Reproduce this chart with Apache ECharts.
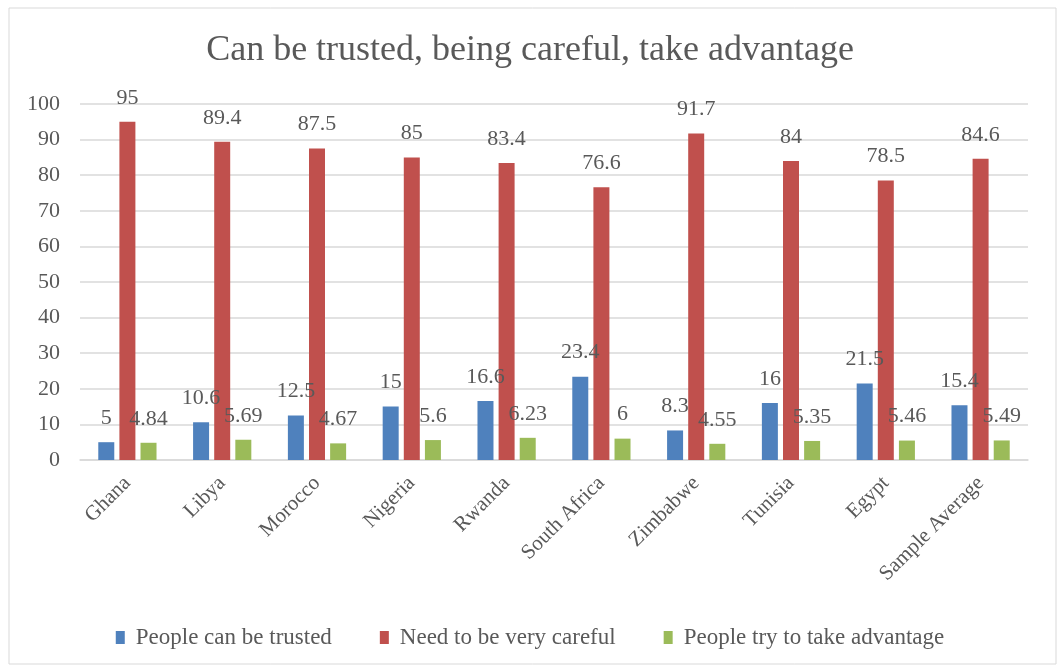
<!DOCTYPE html>
<html>
<head>
<meta charset="utf-8">
<script src="https://cdn.jsdelivr.net/npm/echarts@6/dist/echarts.min.js"></script>
<style>
    html, body {margin: 0; padding: 0; background: #fff;}
    #chart {width: 1060px; height: 668px;}
</style>
</head>
<body>
<div id="chart"></div>
<script>
// countries on the x axis
var countries = ["Ghana", "Libya", "Morocco", "Nigeria", "Rwanda", "South Africa", "Zimbabwe", "Tunisia", "Egypt", "Sample Average"];
var trusted = [5, 10.6, 12.5, 15, 16.6, 23.4, 8.3, 16, 21.5, 15.4];
var careful = [95, 89.4, 87.5, 85, 83.4, 76.6, 91.7, 84, 78.5, 84.6];
var advantage = [4.84, 5.69, 4.67, 5.6, 6.23, 6, 4.55, 5.35, 5.46, 5.49];
var seriesNames = ["People can be trusted", "Need to be very careful", "People try to take advantage"];

var font = "'Liberation Serif', 'DejaVu Serif', serif";
var txt = "#595959";

var myChart = echarts.init(document.getElementById('chart'));

var mkSeries = function (name, data, color) {
    return {
        name: name,
        type: 'bar',
        data: data,
        barWidth: 16,
        barGap: '32%',
        itemStyle: {color: color},
        label: {
            show: true,
            position: 'top',
            distance: 13,
            fontFamily: font,
            fontSize: 22,
            color: txt
        }
    };
};

var option = {
    animation: false,
    graphic: [{
        type: 'rect',
        shape: {x: 9, y: 8, width: 1047, height: 656},
        style: {fill: 'none', stroke: '#d9d9d9', lineWidth: 1},
        silent: true
    }],
    title: {
        text: 'Can be trusted, being careful, take advantage',
        left: 'center',
        top: 28,
        textStyle: {fontFamily: font, fontSize: 36, fontWeight: 'normal', color: txt}
    },
    legend: {
        data: seriesNames,
        bottom: 14,
        left: 'center',
        itemWidth: 9,
        itemHeight: 13,
        itemGap: 48,
        icon: 'rect',
        textStyle: {fontFamily: font, fontSize: 23, color: txt, padding: [0, 0, 0, 6]}
    },
    grid: {left: 80, right: 32, top: 104, bottom: 208},
    xAxis: {
        type: 'category',
        data: countries,
        axisLine: {lineStyle: {color: '#d9d9d9', width: 1.5}},
        axisTick: {show: false},
        axisLabel: {
            rotate: 45,
            margin: 20,
            interval: 0,
            fontFamily: font,
            fontSize: 21,
            color: txt
        }
    },
    yAxis: {
        type: 'value',
        min: 0,
        max: 100,
        interval: 10,
        axisLine: {show: false},
        axisTick: {show: false},
        splitLine: {lineStyle: {color: '#d9d9d9', width: 1.5}},
        axisLabel: {margin: 20, fontFamily: font, fontSize: 22, color: txt}
    },
    series: [
        mkSeries(seriesNames[0], trusted, '#4f81bd'),
        mkSeries(seriesNames[1], careful, '#c0504d'),
        mkSeries(seriesNames[2], advantage, '#9bbb59')
    ]
};

myChart.setOption(option);
</script>
</body>
</html>
